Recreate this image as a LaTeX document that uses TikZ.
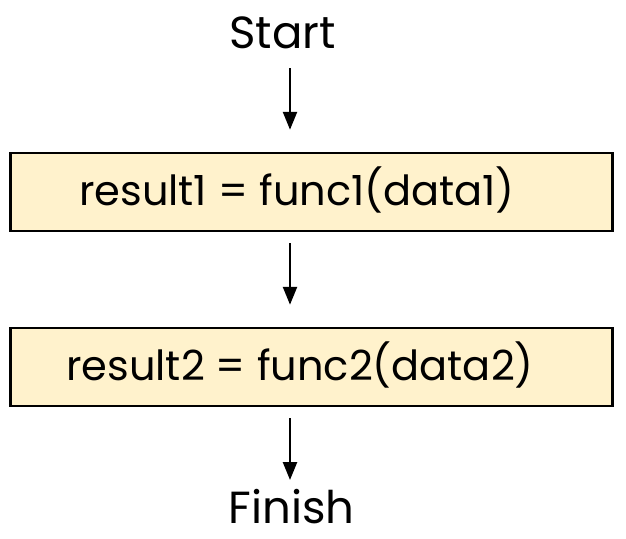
\documentclass[tikz,border=0pt]{standalone}
\usepackage{fontspec}
\setmainfont{Poppins}
\usetikzlibrary{arrows.meta}
\definecolor{boxfill}{HTML}{FFF2CC}
\begin{document}
\begin{tikzpicture}[x=1pt,y=-1pt,
  procbox/.style={draw=black,fill=boxfill,line width=2.5pt,minimum width=602pt,minimum height=78pt,inner sep=0pt},
  lbl/.style={inner sep=0pt,font=\fontsize{41.5}{48}\selectfont},
  endlbl/.style={inner sep=0pt,font=\fontsize{45}{52}\selectfont},
  arr/.style={line width=2.5pt,-{Triangle[length=18pt,width=14pt]}}]
\useasboundingbox (0,0) rectangle (626,538);
\node[endlbl,anchor=base] (start) at (282.5,48) {Start};
\node[procbox] (b1) at (311.5,192) {};
\node[lbl,anchor=base] (t1) at (297,205) {result1 = func1(data1)};
\node[procbox] (b2) at (311.5,367) {};
\node[lbl,anchor=base] (t2) at (300,380) {result2 = func2(data2)};
\node[endlbl,anchor=base] (finish) at (291.5,523) {Finish};
\coordinate (ax) at (290,0);
\coordinate (a0) at (290,68);
\coordinate (a3) at (290,480);
\draw[arr,shorten >=22pt] (a0) -- (b1.north -| ax);
\draw[arr,shorten <=11pt,shorten >=22pt] (b1.south -| ax) -- (b2.north -| ax);
\draw[arr,shorten <=11pt] (b2.south -| ax) -- (a3);
\end{tikzpicture}
\end{document}
